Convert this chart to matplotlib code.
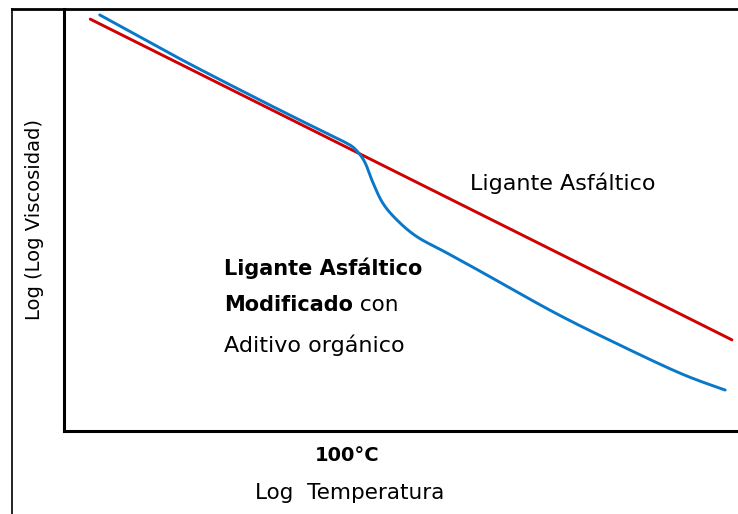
import numpy as np
import matplotlib.pyplot as plt
from matplotlib.lines import Line2D

plt.rcParams['font.family'] = ['DejaVu Sans']

# Ligante asfáltico (recta)
x_ligante = [0.39, 9.91]
y_ligante = [9.76, 2.16]

# Ligante modificado con aditivo orgánico
x_modificado = [0.53, 1.72, 2.91, 3.80, 4.17, 4.32, 4.46, 4.58, 4.73, 4.94,
                5.24, 5.68, 6.17, 7.26, 8.15, 9.14, 9.81]
y_modificado = [9.86, 8.82, 7.84, 7.13, 6.84, 6.68, 6.38, 5.90, 5.40, 5.00,
                4.60, 4.22, 3.79, 2.82, 2.11, 1.37, 0.97]

x_100 = 4.2
tick_labels = ['100°C']


def suavizar(x, y, n=20):
    # Catmull-Rom entre los puntos leidos
    p = np.column_stack([x, y])
    p = np.vstack([p[0], p, p[-1]])
    out = []
    t = np.linspace(0, 1, n, endpoint=False)[:, None]
    for i in range(1, len(p) - 2):
        p0, p1, p2, p3 = p[i - 1], p[i], p[i + 1], p[i + 2]
        out.append(0.5 * (2 * p1 + (-p0 + p2) * t
                          + (2 * p0 - 5 * p1 + 4 * p2 - p3) * t ** 2
                          + (-p0 + 3 * p1 - 3 * p2 + p3) * t ** 3))
    out.append(p[-2][None, :])
    out = np.vstack(out)
    return out[:, 0], out[:, 1]


fig = plt.figure(figsize=(7.38, 5.14), dpi=100)
ax = fig.add_axes([64 / 738, 83 / 514, 674 / 738, 422 / 514])

ax.plot(x_ligante, y_ligante, color='#d00000', lw=2.1, solid_capstyle='round')
xs, ys = suavizar(x_modificado, y_modificado)
ax.plot(xs, ys, color='#0a78c8', lw=2.1, solid_capstyle='round')

ax.set_xlim(0, 10)
ax.set_ylim(0, 10)
ax.set_xticks([x_100])
ax.set_xticklabels(tick_labels, fontsize=14, fontweight='bold')
ax.tick_params(axis='x', length=0, pad=11)
ax.set_yticks([])
for s in ['top', 'right']:
    ax.spines[s].set_visible(False)
for s in ['left', 'bottom']:
    ax.spines[s].set_linewidth(2.2)

# textos dentro del gráfico
ax.text(6.02, 5.88, 'Ligante Asfáltico', fontsize=16, va='center', ha='left')
ax.text(2.37, 3.86, 'Ligante Asfáltico', fontsize=15, fontweight='bold', va='center')
t = ax.text(2.37, 2.99, 'Modificado', fontsize=15, fontweight='bold', va='center')
ax.annotate(' con', xycoords=t, xy=(1, 0.5), va='center', fontsize=15.5)
ax.text(2.37, 2.04, 'Aditivo orgánico', fontsize=16, va='center')

# etiquetas de ejes
fig.text(350 / 738, 1 - 493 / 514, 'Log  Temperatura', fontsize=15.5,
         ha='center', va='center')
fig.text(35 / 738, 1 - 220 / 514, 'Log (Log Viscosidad)', fontsize=14,
         rotation=90, ha='center', va='center')

# marco exterior
fig.add_artist(Line2D([12 / 738, 12 / 738], [0, 1 - 9 / 514], color='black', lw=1.2))
fig.add_artist(Line2D([12 / 738, 1], [1 - 9 / 514, 1 - 9 / 514], color='black', lw=2.0))

fig.savefig('out.png', dpi=100)
